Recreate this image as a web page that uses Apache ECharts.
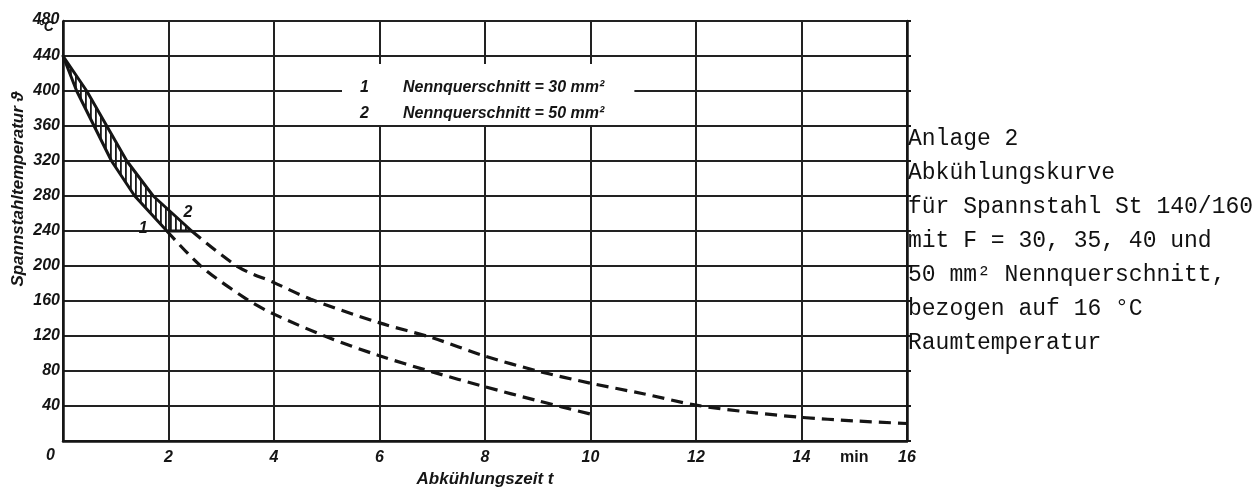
<!DOCTYPE html>
<html>
<head>
<meta charset="utf-8">
<script src="https://cdn.jsdelivr.net/npm/echarts@6/dist/echarts.min.js"></script>
<style>
html,body{margin:0;padding:0;background:#fff;}
#chart{width:1260px;height:489px;}
</style>
</head>
<body>
<div id="chart"></div>
<script>
// ---- data ----
const curve1Solid = [[0,440],[0.26,400],[0.59,360],[0.92,320],[1.36,280],[1.97,240]];
const curve2Solid = [[0,440],[0.45,400],[0.83,360],[1.21,320],[1.71,280],[2.44,240]];
const curve1Dashed = [[1.97,240],[2.63,199],[3.51,161],[4,145],[4.96,120],[5.97,98],[7,79],[8,62],[9,46],[10.05,30]];
const curve2Dashed = [[2.44,240],[3.32,199],[4,181],[4.7,162],[6,135],[7,118],[8,97],[9,80],[10,66],[11,54],[12,41],[13,33],[14,27],[15,23],[16,20]];
const curveNums = ['1','2'];
const curveNames = ['Nennquerschnitt = 30 mm²','Nennquerschnitt = 50 mm²'];
const curveTagPos = [[1.52,243],[2.37,261]];
const xName = 'Abkühlungszeit t';
const yName = 'Spannstahltemperatur ϑ';
const yUnit = '°C';
const xUnit = 'min';
const xUnitPos = 15;
const noteLines = ['Anlage 2','Abkühlungskurve','für Spannstahl St 140/160','mit F = 30, 35, 40 und','50 mm² Nennquerschnitt,','bezogen auf 16 °C','Raumtemperatur'];

// ---- styles ----
const INK = '#151515';
const FONT = "'Liberation Sans', Arial, sans-serif";
const lblStyle = {color: INK, fontFamily: FONT, fontStyle: 'italic', fontWeight: 'bold', fontSize: 16};

// hatch pattern
const pc = document.createElement('canvas');
pc.width = 5; pc.height = 4;
const pctx = pc.getContext('2d');
pctx.fillStyle = '#1a1a1a';
pctx.fillRect(0, 0, 1.8, 4);

const chart = echarts.init(document.getElementById('chart'), null, {renderer: 'canvas'});

const option = {
  backgroundColor: '#fff',
  animation: false,
  grid: {left: 63, right: 353, top: 21, bottom: 48, containLabel: false, outerBoundsMode: 'none'},
  legend: {
    left: 342, top: 64, orient: 'vertical',
    data: curveNames,
    icon: 'none', itemWidth: 0, itemHeight: 0, itemGap: 10,
    backgroundColor: '#fff',
    padding: [16, 30, 3, 13],
    selectedMode: false,
    formatter: function (name) {
      const i = curveNames.indexOf(name);
      return '{n|' + curveNums[i] + '}{t|' + name + '}';
    },
    textStyle: {
      rich: {
        n: Object.assign({}, lblStyle, {width: 43, lineHeight: 18}),
        t: Object.assign({}, lblStyle, {lineHeight: 18})
      }
    }
  },
  xAxis: [{
    type: 'value', min: 0, max: 16, interval: 2,
    name: xName, nameLocation: 'middle', nameGap: 29,
    nameTextStyle: Object.assign({}, lblStyle, {fontSize: 17}),
    axisLine: {show: true, onZero: false, lineStyle: {color: INK, width: 2.5}},
    axisTick: {show: false},
    splitLine: {show: true, lineStyle: {color: '#222', width: 2}},
    axisLabel: Object.assign({}, lblStyle, {margin: 9, formatter: v => v === 0 ? '' : String(v)})
  }, {
    type: 'value', min: 0, max: 16, interval: 1, position: 'bottom',
    axisLine: {show: false}, axisTick: {show: false}, splitLine: {show: false},
    axisLabel: {color: INK, fontFamily: FONT, fontWeight: 'bold', fontSize: 16, margin: 9,
      formatter: v => v === xUnitPos ? xUnit : ''}
  }],
  yAxis: [{
    type: 'value', min: 0, max: 480, interval: 40,
    name: yName, nameLocation: 'middle', nameGap: 36, nameRotate: 90, nameMoveOverlap: false,
    nameTextStyle: Object.assign({}, lblStyle, {fontSize: 17, padding: [0, 0, 0, 84]}),
    axisLine: {show: true, onZero: false, lineStyle: {color: INK, width: 2.5}},
    axisTick: {show: false},
    splitLine: {show: true, lineStyle: {color: '#222', width: 2}},
    axisLabel: Object.assign({}, lblStyle, {
      margin: 3,
      formatter: function (v) {
        if (v === 0) return '{z|0}';
        if (v === 480) return '{t|480}\n{u|' + yUnit + '}';
        return String(v);
      },
      rich: {
        z: Object.assign({}, lblStyle, {padding: [30, 5, 0, 0]}),
        t: Object.assign({}, lblStyle, {width: 28, align: 'center', lineHeight: 13, padding: [8, 0, 0, 0]}),
        u: Object.assign({}, lblStyle, {width: 28, align: 'center', lineHeight: 11, fontSize: 14})
      }
    })
  }, {
    type: 'value', min: 0, max: 480, interval: 40, position: 'right',
    axisLine: {show: true, onZero: false, lineStyle: {color: INK, width: 2.5}},
    axisTick: {show: true, length: 4, lineStyle: {color: INK, width: 2}},
    axisLabel: {show: false},
    splitLine: {show: false}
  }],
  series: [
    {
      type: 'custom', name: 'hatch', xAxisIndex: 0, yAxisIndex: 0, z: 3,
      data: [[0, 440]],
      renderItem: function (params, api) {
        const pts = curve2Solid.map(p => api.coord(p))
          .concat(curve1Solid.slice().reverse().map(p => api.coord(p)));
        return {
          type: 'polygon',
          shape: {points: pts},
          style: {fill: {image: pc, repeat: 'repeat'}, stroke: INK, lineWidth: 3, lineJoin: 'round'}
        };
      }
    },
    {
      type: 'line', name: curveNames[0], data: curve1Dashed, showSymbol: false, smooth: 0.3, z: 4,
      lineStyle: {color: INK, width: 3.2, type: [12, 7]}, itemStyle: {color: INK},
      markPoint: {
        symbol: 'circle', symbolSize: 1, itemStyle: {color: 'rgba(0,0,0,0)'},
        label: Object.assign({}, lblStyle, {show: true, position: 'inside', formatter: curveNums[0]}),
        data: [{coord: curveTagPos[0]}]
      }
    },
    {
      type: 'line', name: curveNames[1], data: curve2Dashed, showSymbol: false, smooth: 0.3, z: 4,
      lineStyle: {color: INK, width: 3.2, type: [12, 7]}, itemStyle: {color: INK},
      markPoint: {
        symbol: 'circle', symbolSize: 1, itemStyle: {color: 'rgba(0,0,0,0)'},
        label: Object.assign({}, lblStyle, {show: true, position: 'inside', formatter: curveNums[1]}),
        data: [{coord: curveTagPos[1]}]
      }
    }
  ],
  graphic: [{
    type: 'text', left: 908, top: 122, z: 10,
    style: {
      text: noteLines.join('\n'),
      fill: '#111',
      font: "23px 'Liberation Mono', 'DejaVu Sans Mono', monospace",
      lineHeight: 34
    }
  }]
};
chart.setOption(option);
</script>
</body>
</html>
